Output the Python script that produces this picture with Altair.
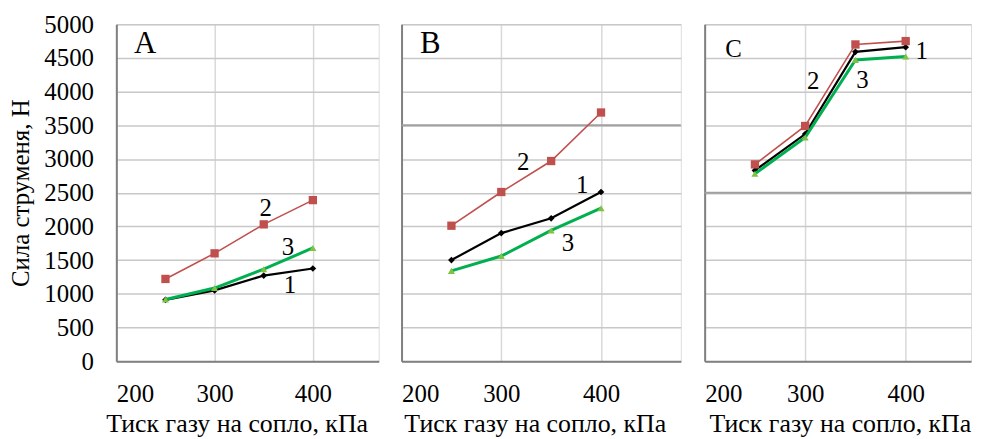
import altair as alt
import pandas as pd

# ---------------- data ----------------
pressure = [250, 300, 350, 400]

A_1 = [910, 1050, 1270, 1375]
A_2 = [1220, 1600, 2030, 2390]
A_3 = [915, 1085, 1365, 1680]

B_1 = [1500, 1900, 2120, 2510]
B_2 = [2010, 2510, 2970, 3690]
B_3 = [1340, 1560, 1940, 2270]

C_1 = [2830, 3370, 4590, 4660]
C_2 = [2920, 3490, 4700, 4750]
C_3 = [2780, 3320, 4470, 4520]

series_names = ["1", "2", "3"]
x_ticks = [200, 300, 400]
y_ticks = list(range(0, 5001, 500))
panel_letters = ["A", "B", "C"]
y_title = "Сила струменя, Н"
x_title = "Тиск газу на сопло, кПа"

# dark horizontal gridlines present in panels B and C
dark_grid = {"A": [], "B": [3500], "C": [2500]}

# ---------------- styles ----------------
FONT = "Liberation Serif"
FS = 25
style = {
    "1": dict(color="#000000", width=2.2, shape="diamond", fill="#000000", size=45),
    "2": dict(color="#C0504D", width=1.6, shape="square", fill="#C0504D", size=70),
    "3": dict(color="#00B050", width=3.0, shape="triangle-up", fill="#7DC242", size=50),
}
draw_order = ["1", "2", "3"]

# label anchors: (series, index of point, dx, dy)
label_specs = {
    "A": [("2", 2, 2, -16), ("3", 3, -25, -1), ("1", 3, -23, 17)],
    "B": [("2", 1, 22, -30), ("1", 3, -19, -7), ("3", 2, 17, 13)],
    "C": [("2", 1, 8, -45), ("3", 2, 7, 20), ("1", 3, 16, 4)],
}
letter_style = {"A": (29, 20, 31), "B": (29, 20, 31), "C": (29, 25, 25)}
title_x = {"A": 121, "B": 134, "C": 136}


def panel(name, vals, width, height, xmax, show_y):
    x_enc = alt.X(
        "x:Q",
        scale=alt.Scale(domain=[200, xmax], nice=False, zero=False),
        axis=alt.Axis(
            values=x_ticks, grid=True, gridColor="#D9D9D9", gridWidth=1.5,
            domainColor="#808080", domainWidth=2, ticks=False, format="d",
            labelFont=FONT, labelFontSize=FS, labelColor="black", labelPadding=21,
            title=x_title, titleFont=FONT, titleFontSize=26, titleFontWeight="normal",
            titleColor="black", titlePadding=4, titleX=title_x[name],
        ),
    )
    if show_y:
        y_axis = alt.Axis(
            values=y_ticks, grid=True, gridColor="#C8C8C8", gridWidth=1.5,
            domainColor="#808080", domainWidth=2, ticks=False, format="d",
            labelFont=FONT, labelFontSize=FS, labelColor="black", labelPadding=23,
            title=y_title, titleFont=FONT, titleFontSize=FS, titleFontWeight="normal",
            titleColor="black", titlePadding=10,
        )
    else:
        y_axis = alt.Axis(
            values=y_ticks, grid=True, gridColor="#C8C8C8", gridWidth=1.5,
            domainColor="#808080", domainWidth=2, ticks=False, labels=False, title=None,
        )
    y_enc = alt.Y("y:Q", scale=alt.Scale(domain=[0, 5000], nice=False), axis=y_axis)

    layers = []
    if dark_grid[name]:
        dg = pd.DataFrame({"y": dark_grid[name]})
        layers.append(
            alt.Chart(dg).mark_rule(color="#A0A0A0", strokeWidth=2).encode(y=y_enc)
        )
    for s in draw_order:
        df = pd.DataFrame({"x": pressure, "y": vals[s]})
        st = style[s]
        layers.append(
            alt.Chart(df).mark_line(color=st["color"], strokeWidth=st["width"]).encode(x=x_enc, y=y_enc)
        )
        layers.append(
            alt.Chart(df).mark_point(
                shape=st["shape"], filled=True, color=st["fill"], size=st["size"], opacity=1
            ).encode(x=x_enc, y=y_enc)
        )
    for s, i, dx, dy in label_specs[name]:
        df = pd.DataFrame({"x": [pressure[i]], "y": [vals[s][i]], "t": [s]})
        layers.append(
            alt.Chart(df).mark_text(
                font=FONT, fontSize=FS, color="black", dx=dx, dy=dy,
                align="center", baseline="middle",
            ).encode(x=x_enc, y=y_enc, text="t:N")
        )
    lx, ly, lfs = letter_style[name]
    ldf = pd.DataFrame({"t": [name]})
    layers.append(
        alt.Chart(ldf).mark_text(
            font=FONT, fontSize=lfs, color="black", align="center", baseline="middle"
        ).encode(x=alt.value(lx), y=alt.value(ly), text="t:N")
    )
    return alt.layer(*layers).properties(width=width, height=height)


pA = panel("A", {"1": A_1, "2": A_2, "3": A_3}, 264, 339, 467, True)
pB = panel("B", {"1": B_1, "2": B_2, "3": B_3}, 281, 339, 480, False)
pC = panel("C", {"1": C_1, "2": C_2, "3": C_3}, 268, 339, 465, False)

chart = (
    alt.hconcat(pA, pB, pC, spacing=20)
    .properties(padding={"left": 0, "top": 2, "right": 0, "bottom": 0})
    .configure_view(stroke=None)
    .configure(background="white")
)

chart.save("out.html", embed_options={"renderer": "svg", "actions": False})
